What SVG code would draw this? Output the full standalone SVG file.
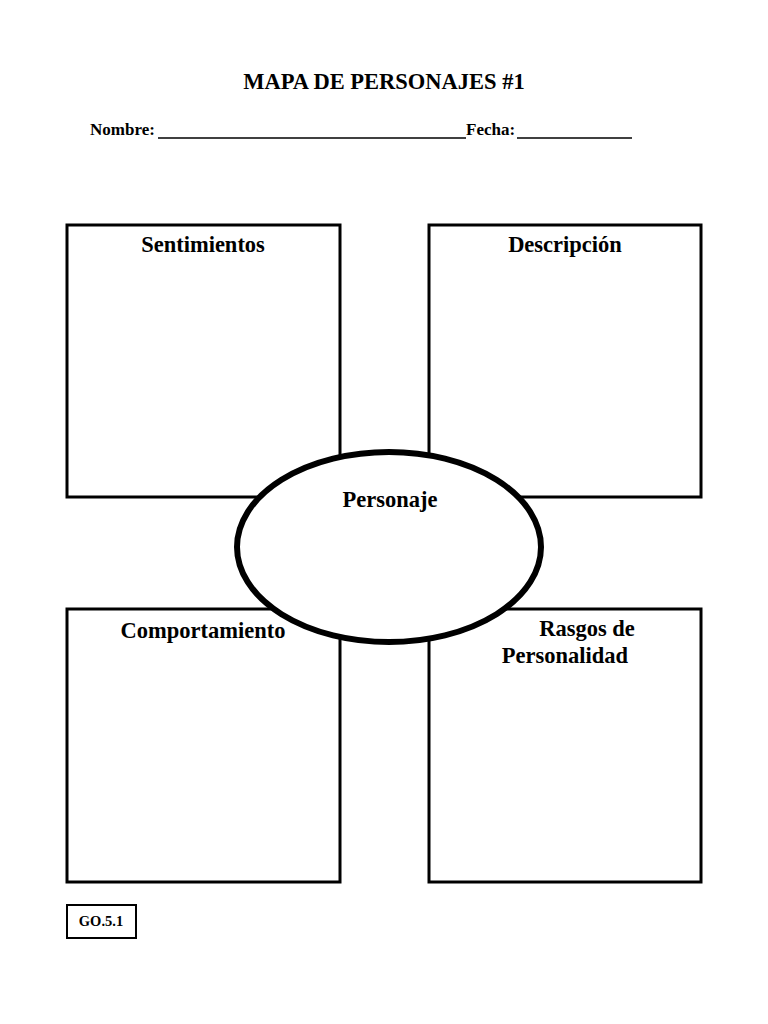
<svg xmlns="http://www.w3.org/2000/svg" width="768" height="1024" viewBox="0 0 768 1024">
<style>
text{font-family:"Liberation Serif",serif;font-weight:bold;fill:#000}
.box{fill:#fff;stroke:#000;stroke-width:3}
.h{font-size:22.5px;text-anchor:middle}
</style>
<rect width="768" height="1024" fill="#fff"/>
<text x="384" y="89" class="h">MAPA DE PERSONAJES #1</text>
<text x="90" y="135" font-size="17">Nombre:</text>
<line x1="158" y1="138" x2="466" y2="138" stroke="#000" stroke-width="1.5"/>
<text x="466" y="135" font-size="17">Fecha:</text>
<line x1="517" y1="138" x2="632" y2="138" stroke="#000" stroke-width="1.5"/>
<g id="sentimientos"><rect class="box" x="67" y="225" width="273" height="272"/><text x="203" y="252" class="h">Sentimientos</text></g>
<g id="descripcion"><rect class="box" x="429" y="225" width="272" height="272"/><text x="565" y="252" class="h">Descripción</text></g>
<g id="comportamiento"><rect class="box" x="67" y="609" width="273" height="273"/><text x="203" y="638" class="h">Comportamiento</text></g>
<g id="rasgos"><rect class="box" x="429" y="609" width="272" height="273"/><text x="587" y="636" class="h">Rasgos de</text><text x="565" y="663" class="h">Personalidad</text></g>
<g id="personaje"><ellipse cx="389" cy="547" rx="152" ry="95" fill="#fff" stroke="#000" stroke-width="6"/><text x="390" y="507" class="h">Personaje</text></g>
<g id="connectors"/>
<g id="code"><rect x="67" y="905" width="69" height="33" fill="#fff" stroke="#000" stroke-width="2"/><text x="101" y="926" font-size="14.5" text-anchor="middle">GO.5.1</text></g>
</svg>
